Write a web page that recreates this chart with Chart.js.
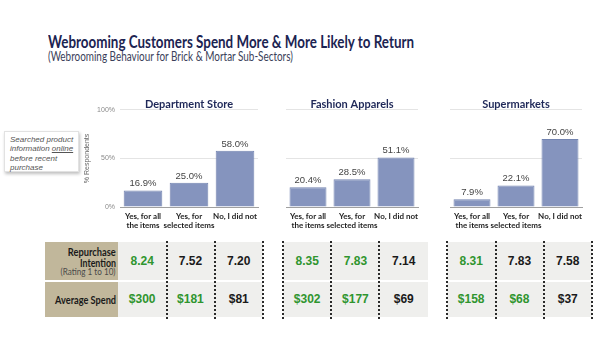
<!DOCTYPE html>
<html>
<head>
<meta charset="utf-8">
<script src="https://cdn.jsdelivr.net/npm/chart.js@4.4.0/dist/chart.umd.min.js"></script>
<style>
  body { margin: 0; width: 600px; height: 360px; background: #fff; position: relative; overflow: hidden;
         font-family: Lato, "Noto Sans", Arial, sans-serif; }
  .abs { position: absolute; }
  .fit { display: inline-block; white-space: nowrap; }
  #title { left: 48px; top: 33px; font-size: 16.5px; line-height: 18px; font-weight: bold; color: #1c2452; transform-origin: left center; }
  #subtitle { left: 48px; top: 50px; font-size: 12.5px; line-height: 14px; color: #3b3f5a; transform-origin: left center; }
  #note { left: 4px; top: 131px; width: 75px; height: 41px; padding: 3px 0 0 5px; box-sizing: border-box; background: #fff;
          border: 1px solid #e2e2e2; box-shadow: 1px 2px 3px rgba(0,0,0,0.25);
          font-family: "Liberation Sans", Arial, sans-serif; font-style: italic; font-size: 8px; line-height: 9.3px; color: #555; }
  #note u { text-decoration-thickness: 0.5px; }
  canvas { position: absolute; }
  .head { background: #c1b79b; }
  .hl { color: #1a1a1a; font-weight: bold; font-size: 11px; line-height: 11px; transform-origin: right center; }
  .hs { color: #4a4a4a; font-size: 8.5px; line-height: 10px; transform-origin: right center; }
  .cell { background: #efefed; font-family: "Liberation Sans", Arial, sans-serif; font-weight: bold; font-size: 12px;
          display: flex; align-items: center; justify-content: center; color: #1a1a1a; }
  .dash { width: 0; border-left: 2px dotted #2a2a2a; }
</style>
</head>
<body>
<div id="title" class="abs fit" data-w="366">Webrooming Customers Spend More &amp; More Likely to Return</div>
<div id="subtitle" class="abs fit" data-w="245">(Webrooming Behaviour for Brick &amp; Mortar Sub-Sectors)</div>
<div id="note" class="abs">Searched product<br>information <u>online</u><br>before recent<br>purchase</div>

<canvas id="chart0" width="204" height="143" style="left:60px;top:94px"></canvas>
<canvas id="chart1" width="144" height="143" style="left:280px;top:94px"></canvas>
<canvas id="chart2" width="144" height="143" style="left:444px;top:94px"></canvas>

<div id="table"></div>

<script>
// chart data
const sectors = ['Department Store', 'Fashion Apparels', 'Supermarkets'];
const answers = [['Yes, for all', 'the items'], ['Yes, for', 'selected items'], 'No, I did not'];
const deptStore = [16.9, 25.0, 58.0];
const fashionApparels = [20.4, 28.5, 51.1];
const supermarkets = [7.9, 22.1, 70.0];
const yTicks = [0, 50, 100];

// table data (one row per sector)
const repurchase = [[8.24, 7.52, 7.20], [8.35, 7.83, 7.14], [8.31, 7.83, 7.58]];
const avgSpend = [[300, 181, 81], [302, 177, 69], [158, 68, 37]];
// values shown in green
const repurchaseHigh = [[true, false, false], [true, true, false], [true, false, false]];
const spendHigh = [[true, true, false], [true, true, false], [true, true, false]];

const series = [deptStore, fashionApparels, supermarkets];
const gothic = 'Lato, "Noto Sans", Arial, sans-serif';
const plain = '"Liberation Sans", Arial, sans-serif';

// labels on top of the bars
const barLabels = {
  id: 'barLabels',
  afterDatasetsDraw(chart) {
    const ctx = chart.ctx;
    const ds = chart.data.datasets[0];
    ctx.save();
    ctx.font = '9.5px ' + plain;
    ctx.fillStyle = '#444';
    ctx.textAlign = 'center';
    ctx.textBaseline = 'bottom';
    chart.getDatasetMeta(0).data.forEach((bar, i) => {
      ctx.fillText(ds.data[i].toFixed(1) + '%', bar.x, bar.y - 2);
    });
    ctx.restore();
  }
};

function makeChart(i) {
  const showAxis = i === 0;
  const axisW = showAxis ? 60 : 0;
  new Chart(document.getElementById('chart' + i), {
    type: 'bar',
    data: {
      labels: answers,
      datasets: [{
        data: series[i],
        backgroundColor: '#8594be',
        borderColor: '#7384b0',
        borderWidth: 1,
        barPercentage: 0.84,
        categoryPercentage: 1
      }]
    },
    options: {
      responsive: false,
      animation: false,
      layout: { padding: { top: 6, right: 6, left: showAxis ? 0 : 6, bottom: 0 } },
      plugins: {
        legend: { display: false },
        tooltip: { enabled: false },
        title: {
          display: true,
          text: sectors[i],
          fullSize: false,
          color: '#1f2858',
          font: { size: 11, weight: 'bold', family: gothic, lineHeight: 0.9 },
          padding: 0
        }
      },
      scales: {
        x: {
          afterFit: s => { s.height = 30; s.paddingLeft = 0; s.paddingRight = 0; },
          border: { color: '#a0a0a0' },
          grid: { display: false, drawTicks: false },
          ticks: {
            padding: 5, color: '#1e1e1e', maxRotation: 0, autoSkip: false,
            font: { size: 8, weight: 'bold', family: gothic, lineHeight: 1.15 }
          }
        },
        y: {
          min: 0,
          max: 100,
          afterBuildTicks: s => { s.ticks = yTicks.map(v => ({ value: v })); },
          afterFit: s => { s.width = axisW; s.paddingTop = 0; s.paddingBottom = 0; },
          border: { display: false },
          grid: { color: '#e4e4e4', drawTicks: false },
          ticks: {
            display: showAxis, padding: 5, color: '#8a8a8a',
            font: { size: 7, family: plain },
            callback: v => v + '%'
          },
          title: {
            display: showAxis, text: '% Respondents', color: '#666',
            font: { size: 7, family: plain },
            padding: { top: 23, bottom: 0 }
          }
        }
      }
    },
    plugins: [barLabels]
  });
}

sectors.forEach((s, i) => makeChart(i));

// table below the charts
const table = document.getElementById('table');
function box(cls, left, top, width, height, html) {
  const d = document.createElement('div');
  d.className = 'abs ' + cls;
  Object.assign(d.style, { left: left + 'px', top: top + 'px' });
  if (width !== null) d.style.width = width + 'px';
  if (height !== null) d.style.height = height + 'px';
  if (html !== undefined) d.innerHTML = html;
  table.appendChild(d);
  return d;
}
function headLine(cls, text, centerY, w) {
  const d = box(cls + ' fit', 0, centerY - 5.5, null, null, text);
  d.style.left = 'auto';
  d.style.right = (600 - 116) + 'px';
  d.dataset.w = w;
}

const rowTop = [242, 281.5];
const rowH = [38, 35.5];
box('head', 45, rowTop[0], 73, rowH[0]);
box('head', 45, rowTop[1], 73, rowH[1]);
headLine('hl', 'Repurchase', 251, 48);
headLine('hl', 'Intention', 262, 36);
headLine('hs', '(Rating 1 to 10)', 272.5, 55);
headLine('hl', 'Average Spend', 299.5, 61);

const groupLeft = [118, 283, 447];
const cellW = 48.3;
sectors.forEach((s, g) => {
  for (let c = 0; c < 3; c++) {
    const x = groupLeft[g] + c * cellW;
    const r = box('cell', x, rowTop[0], cellW, rowH[0], repurchase[g][c].toFixed(2));
    if (repurchaseHigh[g][c]) r.style.color = '#2f952f';
    const a = box('cell', x, rowTop[1], cellW, rowH[1], '$' + avgSpend[g][c]);
    if (spendHigh[g][c]) a.style.color = '#2f952f';
  }
});

// dotted separators
[166, 214, 262, 282, 330, 378, 446, 495, 543, 591].forEach(x => box('dash', x, 241, 0, 78));

// squeeze the gothic text to the condensed widths of the original
document.querySelectorAll('[data-w]').forEach(el => {
  const w = el.getBoundingClientRect().width;
  el.style.transform = 'scaleX(' + (el.dataset.w / w).toFixed(3) + ')';
});
</script>
</body>
</html>
